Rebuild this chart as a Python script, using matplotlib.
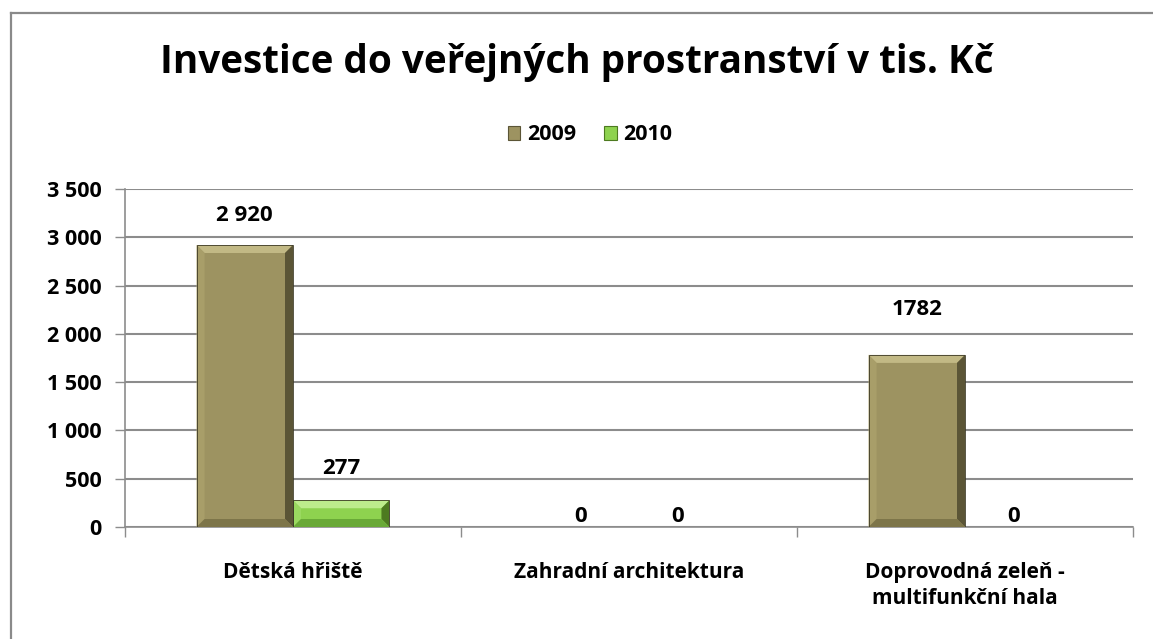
import numpy as np
import matplotlib
matplotlib.use("Agg")
import matplotlib.pyplot as plt
from matplotlib.patches import Polygon
from matplotlib.lines import Line2D

# data
categories = ["Dětská hřiště", "Zahradní architektura", "Doprovodná zeleň -\nmultifunkční hala"]
years = ["2009", "2010"]
values_2009 = [2920, 0, 1782]
values_2010 = [277, 0, 0]
labels_2009 = ["2 920", "0", "1782"]
labels_2010 = ["277", "0", "0"]
y_ticks = [0, 500, 1000, 1500, 2000, 2500, 3000, 3500]
y_tick_labels = ["0", "500", "1 000", "1 500", "2 000", "2 500", "3 000", "3 500"]

FONT = "Open Sans"
GRID = "#8c8c8c"
# body, top bevel, left bevel, right bevel, bottom bevel
OLIVE = ("#9d9361", "#c2b985", "#a89e69", "#5b5536", "#7d7549")
GREEN = ("#8ed24f", "#bdec8c", "#9ad960", "#4d7a20", "#69a937")

plt.rcParams["font.family"] = [FONT, "DejaVu Sans"]
plt.rcParams["font.weight"] = "bold"

fig = plt.figure(figsize=(11.53, 6.39), dpi=100)
W, H = 1153, 639
ax = fig.add_axes([125 / W, 1 - 527 / H, (1133 - 125) / W, (527 - 189) / H])

x = np.arange(len(categories))
bw = 0.287
ax.set_xlim(-0.5, len(categories) - 0.5)
ax.set_ylim(0, 3500)

bars09 = ax.bar(x - bw / 2, values_2009, bw, color=OLIVE[0], zorder=3, linewidth=0)
bars10 = ax.bar(x + bw / 2, values_2010, bw, color=GREEN[0], zorder=3, linewidth=0)


def bevel(rect, cols, px=8):
    """Overlay bevel facets on a bar, bevel size given in pixels."""
    h = rect.get_height()
    if h <= 0:
        return
    x0, w = rect.get_x(), rect.get_width()
    sx = (ax.get_xlim()[1] - ax.get_xlim()[0]) / (1133 - 125)
    sy = (ax.get_ylim()[1] - ax.get_ylim()[0]) / (527 - 189)
    bx = min(px * sx, w / 3)
    by = min(px * sy, h / 3)
    x1, y0, y1 = x0 + w, 0, h
    facets = [
        ([(x0, y1), (x1, y1), (x1 - bx, y1 - by), (x0 + bx, y1 - by)], cols[1]),
        ([(x0, y0), (x0, y1), (x0 + bx, y1 - by), (x0 + bx, y0 + by)], cols[2]),
        ([(x1, y0), (x1, y1), (x1 - bx, y1 - by), (x1 - bx, y0 + by)], cols[3]),
        ([(x0, y0), (x1, y0), (x1 - bx, y0 + by), (x0 + bx, y0 + by)], cols[4]),
    ]
    for pts, c in facets:
        ax.add_patch(Polygon(pts, closed=True, facecolor=c, edgecolor="none", zorder=4))
    ax.add_patch(Polygon([(x0, y0), (x0, y1), (x1, y1), (x1, y0)], closed=True,
                         facecolor="none", edgecolor="#3d3a26", linewidth=0.6, zorder=5))


for r in bars09:
    bevel(r, OLIVE)
for r in bars10:
    bevel(r, GREEN)

# data labels; the reference has them nudged by hand, so offsets differ (pixels)
offsets_2009 = [30, 11, 45]
offsets_2010 = [32, 11, 11]
for rects, labs, offs in ((bars09, labels_2009, offsets_2009), (bars10, labels_2010, offsets_2010)):
    for r, lab, off in zip(rects, labs, offs):
        ax.annotate(lab, (r.get_x() + r.get_width() / 2, r.get_height()),
                    xytext=(0, off * 0.72), textcoords="offset points", ha="center", va="center",
                    fontsize=16, fontweight="bold", color="black")

ax.set_yticks(y_ticks)
ax.set_yticklabels(y_tick_labels, fontsize=15.5, fontweight="bold")
ax.yaxis.grid(True, color=GRID, linewidth=1.5, zorder=0)
ax.set_axisbelow(True)
ax.tick_params(axis="y", length=7, width=1, color=GRID, pad=10)

ax.set_xticks(np.arange(len(categories) + 1) - 0.5)
ax.set_xticklabels([""] * (len(categories) + 1))
ax.set_xticks(x, minor=True)
ax.set_xticklabels(categories, minor=True, fontsize=15, fontweight="bold", linespacing=1.35)
ax.tick_params(axis="x", which="major", length=7, width=1, color=GRID)
ax.tick_params(axis="x", which="minor", length=0, pad=25)

for s in ("top", "right"):
    ax.spines[s].set_visible(False)
for s in ("left", "bottom"):
    ax.spines[s].set_color(GRID)
    ax.spines[s].set_linewidth(1.2)

fig.text(577 / W, 1 - 62 / H, "Investice do veřejných prostranství v tis. Kč",
         ha="center", va="center", fontsize=27.8, fontweight="bold")

handles = [Polygon([(0, 0)], facecolor=OLIVE[0], edgecolor=OLIVE[3], linewidth=0.8),
           Polygon([(0, 0)], facecolor=GREEN[0], edgecolor=GREEN[3], linewidth=0.8)]
fig.legend(handles, years, loc="center", bbox_to_anchor=(590 / W, 1 - 135 / H), ncol=2,
           frameon=False, prop={"weight": "bold", "size": 15.5, "family": [FONT]},
           handlelength=0.6, handleheight=0.6, handletextpad=0.3, columnspacing=1.3)

# outer chart frame (only left and top edges visible in the crop)
fig.add_artist(Line2D([11 / W, 11 / W], [0, 1 - 13 / H], color="#8a8a8a", linewidth=1.6))
fig.add_artist(Line2D([11 / W, 1], [1 - 13 / H, 1 - 13 / H], color="#8a8a8a", linewidth=1.6))

fig.savefig("out.png", dpi=100)
